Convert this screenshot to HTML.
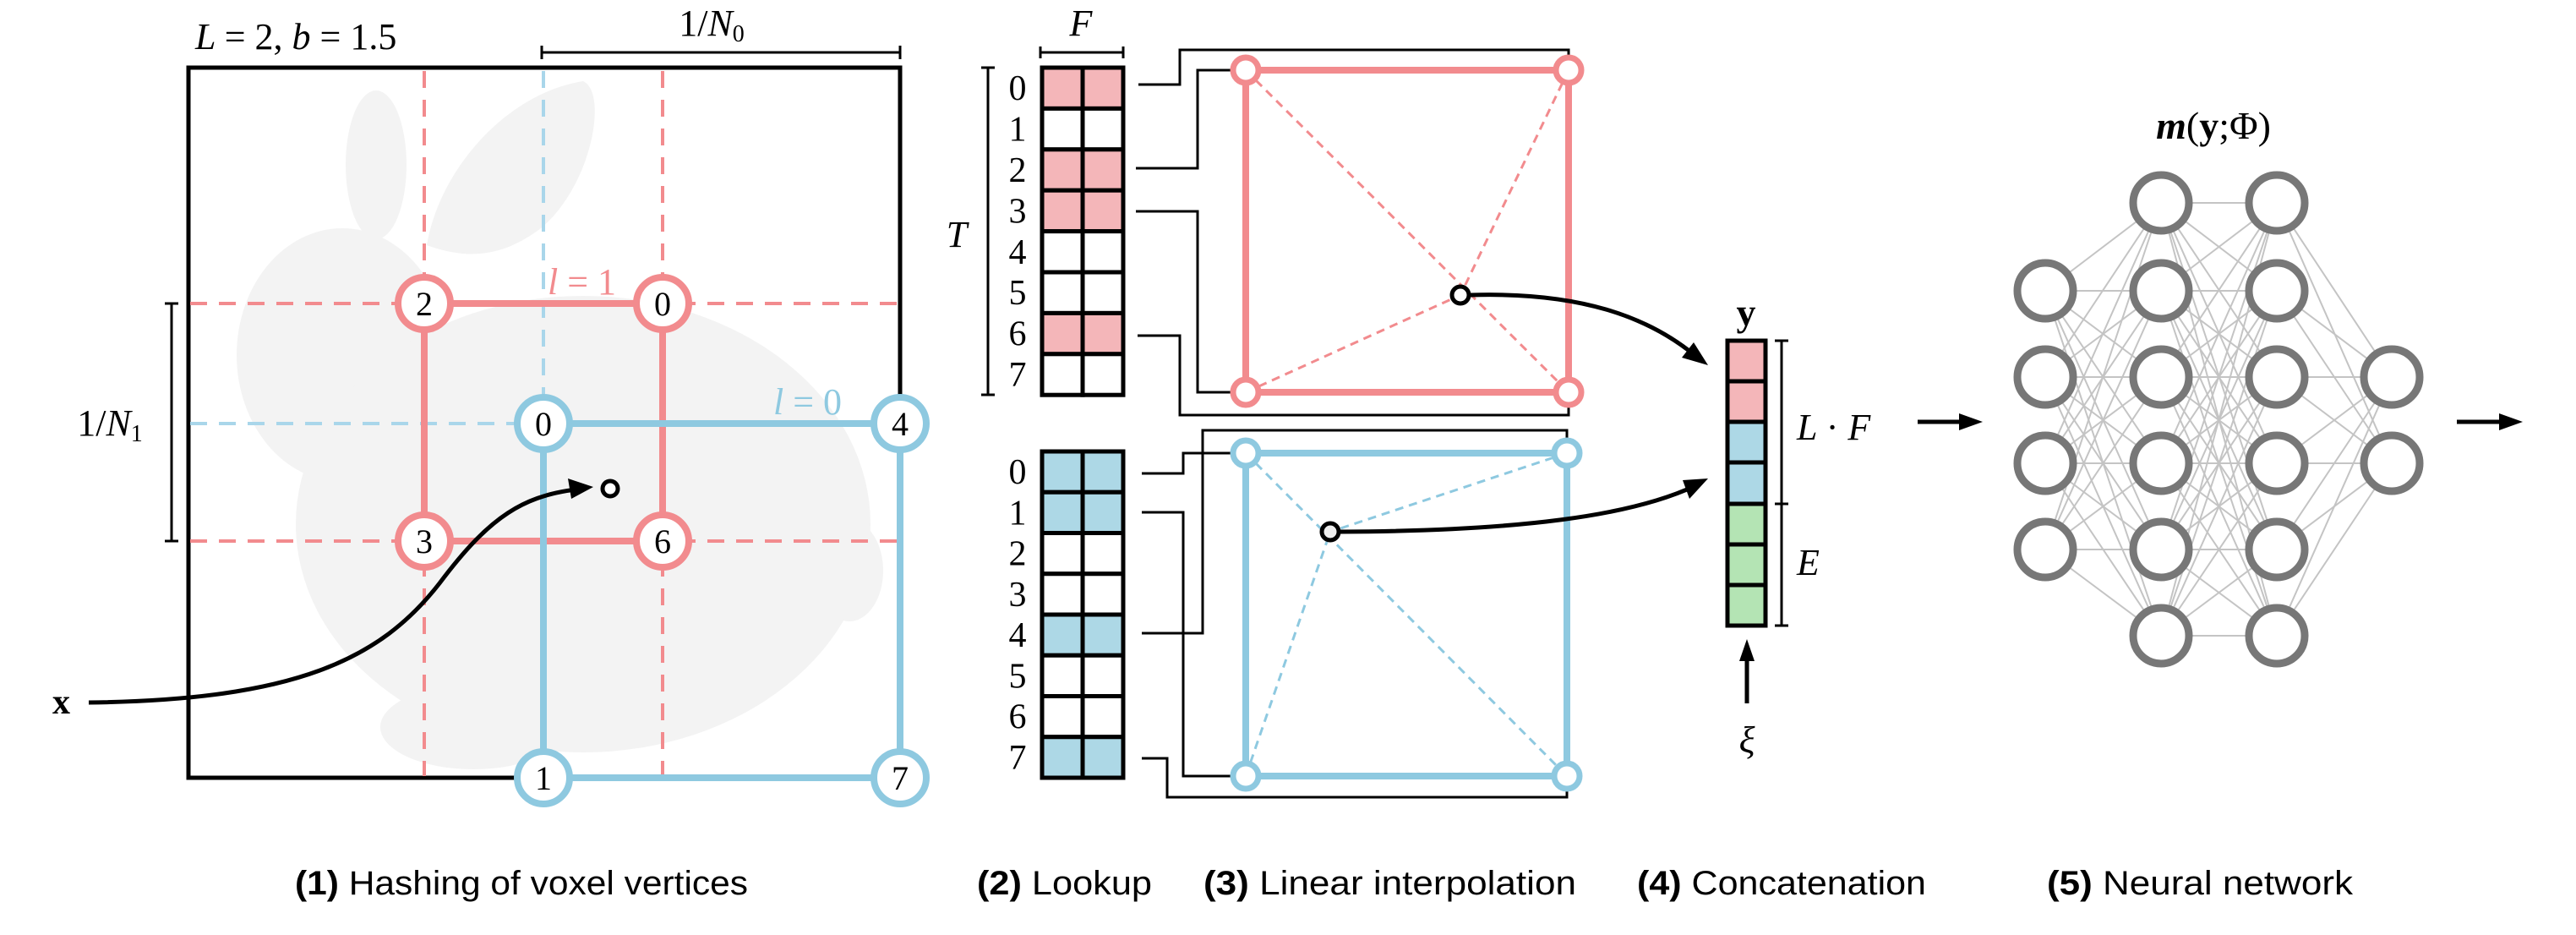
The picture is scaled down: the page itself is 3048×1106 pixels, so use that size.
<!DOCTYPE html>
<html><head><meta charset="utf-8"><style>
html,body{margin:0;padding:0;background:#fff;}
svg{display:block;}
.m{font-family:"Liberation Serif",serif;font-style:italic;fill:#000;}
.r{font-family:"Liberation Serif",serif;fill:#000;}
.c{font-family:"Liberation Sans",sans-serif;font-size:40px;fill:#000;}
</style></head><body>
<svg id="s" width="3048" height="1106" viewBox="0 0 3048 1106" xmlns="http://www.w3.org/2000/svg">
<!-- bunny -->
<g fill="#f3f3f3">
<ellipse cx="445" cy="195" rx="36" ry="88"/>
<path d="M505 290 C520 200 600 110 690 96 C720 110 700 220 640 270 C600 300 560 310 505 290 Z"/>
<ellipse cx="405" cy="420" rx="125" ry="150"/>
<ellipse cx="690" cy="620" rx="340" ry="270"/>
<ellipse cx="1005" cy="675" rx="40" ry="60"/>
<ellipse cx="560" cy="860" rx="110" ry="50"/>
</g>
<!-- box -->
<rect x="223" y="80" width="842" height="840" fill="none" stroke="#000" stroke-width="5"/>
<text x="231" y="58" class="m" font-size="44">L <tspan class="r" font-style="normal">= 2,</tspan>  b <tspan class="r" font-style="normal">= 1.5</tspan></text>
<line x1="641" y1="62" x2="1065" y2="62" stroke="#000" stroke-width="3"/>
<line x1="641" y1="54" x2="641" y2="70" stroke="#000" stroke-width="3"/>
<line x1="1065" y1="54" x2="1065" y2="70" stroke="#000" stroke-width="3"/>
<text x="842" y="42" class="r" font-size="44" text-anchor="middle">1/<tspan class="m">N</tspan><tspan font-size="28" dy="7">0</tspan></text>
<line x1="203" y1="359" x2="203" y2="640" stroke="#000" stroke-width="3"/>
<line x1="195" y1="359" x2="211" y2="359" stroke="#000" stroke-width="3"/>
<line x1="195" y1="640" x2="211" y2="640" stroke="#000" stroke-width="3"/>
<text x="130" y="515" class="r" font-size="44" text-anchor="middle">1/<tspan class="m">N</tspan><tspan font-size="28" dy="7">1</tspan></text>
<!-- dashed -->
<g stroke="#f28b8e" stroke-width="4" stroke-dasharray="20 14" fill="none">
<line x1="502" y1="84" x2="502" y2="918"/><line x1="784" y1="84" x2="784" y2="918"/>
<line x1="225" y1="359" x2="1063" y2="359"/><line x1="225" y1="640" x2="1063" y2="640"/>
</g>
<g stroke="#a9d6ea" stroke-width="4" stroke-dasharray="20 14" fill="none">
<line x1="643" y1="84" x2="643" y2="501"/><line x1="225" y1="501" x2="643" y2="501"/>
</g>
<rect x="502" y="359" width="282" height="281" fill="none" stroke="#f28b8e" stroke-width="8"/>
<rect x="643" y="501" width="422" height="419" fill="none" stroke="#8ec9e0" stroke-width="8"/>
<text x="648" y="348" class="m" font-size="44" style="fill:#f28b8e">l <tspan class="r" font-style="normal" style="fill:#f28b8e">= 1</tspan></text>
<text x="915" y="490" class="m" font-size="44" style="fill:#8ec9e0">l <tspan class="r" font-style="normal" style="fill:#8ec9e0">= 0</tspan></text>
<g stroke-width="8" fill="#fff">
<g stroke="#f28b8e"><circle cx="502" cy="359" r="31"/><circle cx="784" cy="359" r="31"/><circle cx="502" cy="640" r="31"/><circle cx="784" cy="640" r="31"/></g>
<g stroke="#8ec9e0"><circle cx="643" cy="501" r="31"/><circle cx="1065" cy="501" r="31"/><circle cx="643" cy="920" r="31"/><circle cx="1065" cy="920" r="31"/></g>
</g>
<g class="r" font-size="40" text-anchor="middle">
<text x="502" y="373">2</text><text x="784" y="373">0</text><text x="502" y="654">3</text><text x="784" y="654">6</text>
<text x="643" y="515">0</text><text x="1065" y="515">4</text><text x="643" y="934">1</text><text x="1065" y="934">7</text>
</g>
<!-- x curve -->
<text x="62" y="844" class="r" font-size="42" font-weight="bold">x</text>
<path d="M105 831 C350 828 450 780 520 690 C580 610 620 585 690 578" fill="none" stroke="#000" stroke-width="5"/>
<path d="M702 576 L672 566 L676 590 Z" fill="#000"/>
<circle cx="722" cy="578" r="9" fill="#fff" stroke="#000" stroke-width="5"/>
<!-- (2) tables -->
<text x="1279" y="42" class="m" font-size="44" text-anchor="middle">F</text>
<line x1="1231" y1="62" x2="1329" y2="62" stroke="#000" stroke-width="3"/>
<line x1="1231" y1="55" x2="1231" y2="69" stroke="#000" stroke-width="3"/>
<line x1="1329" y1="55" x2="1329" y2="69" stroke="#000" stroke-width="3"/>
<line x1="1169" y1="80" x2="1169" y2="467" stroke="#000" stroke-width="3"/>
<line x1="1161" y1="80" x2="1177" y2="80" stroke="#000" stroke-width="3"/>
<line x1="1161" y1="467" x2="1177" y2="467" stroke="#000" stroke-width="3"/>
<text x="1132" y="292" class="m" font-size="44" text-anchor="middle">T</text>
<g id="tables"></g>
<g fill="none" stroke="#000" stroke-width="3">
<polyline points="1347,100 1396,100 1396,59 1856,59 1856,83"/>
<polyline points="1344,199 1417,199 1417,83 1460,83"/>
<polyline points="1344,250 1417,250 1417,464 1460,464"/>
<polyline points="1346,397 1396,397 1396,491 1856,491 1856,464"/>
<polyline points="1351,560 1400,560 1400,536 1460,536"/>
<polyline points="1351,606 1400,606 1400,918 1460,918"/>
<polyline points="1351,749 1423,749 1423,509 1854,509 1854,536"/>
<polyline points="1351,897 1381,897 1381,943 1854,943 1854,918"/>
</g>
<rect x="1474" y="83" width="382" height="381" fill="none" stroke="#f28b8e" stroke-width="8"/>
<g stroke="#f28b8e" stroke-width="3" stroke-dasharray="10 7"><line x1="1474" y1="83" x2="1856" y2="464"/><line x1="1856" y1="83" x2="1728" y2="349"/><line x1="1474" y1="464" x2="1728" y2="349"/></g>
<rect x="1474" y="536" width="380" height="382" fill="none" stroke="#8ec9e0" stroke-width="8"/>
<g stroke="#8ec9e0" stroke-width="3" stroke-dasharray="10 7"><line x1="1474" y1="536" x2="1854" y2="918"/><line x1="1854" y1="536" x2="1574" y2="629"/><line x1="1474" y1="918" x2="1574" y2="629"/></g>
<g fill="#fff" stroke-width="7">
<g stroke="#f28b8e"><circle cx="1474" cy="83" r="15"/><circle cx="1856" cy="83" r="15"/><circle cx="1474" cy="464" r="15"/><circle cx="1856" cy="464" r="15"/></g>
<g stroke="#8ec9e0"><circle cx="1474" cy="536" r="15"/><circle cx="1854" cy="536" r="15"/><circle cx="1474" cy="918" r="15"/><circle cx="1854" cy="918" r="15"/></g>
</g>
<path d="M1740 349 C1870 345 1950 375 2005 420" fill="none" stroke="#000" stroke-width="5"/>
<path d="M2021 432 L1990 423 L2004 405 Z" fill="#000"/>
<path d="M1586 629 C1800 628 1930 610 2005 575" fill="none" stroke="#000" stroke-width="5"/>
<path d="M2021 566 L1999 590 L1991 568 Z" fill="#000"/>
<circle cx="1728" cy="349" r="10" fill="#fff" stroke="#000" stroke-width="5"/>
<circle cx="1574" cy="629" r="10" fill="#eee" stroke="#000" stroke-width="5"/>
<!-- concat -->
<g stroke="#000" stroke-width="5">
<rect x="2044" y="403" width="45" height="48" fill="#f4b6b9"/><rect x="2044" y="451" width="45" height="48" fill="#f4b6b9"/>
<rect x="2044" y="499" width="45" height="48" fill="#add8e6"/><rect x="2044" y="547" width="45" height="49" fill="#add8e6"/>
<rect x="2044" y="596" width="45" height="48" fill="#b4e4b4"/><rect x="2044" y="644" width="45" height="48" fill="#b4e4b4"/><rect x="2044" y="692" width="45" height="48" fill="#b4e4b4"/>
</g>
<text x="2066" y="385" class="r" font-size="46" font-weight="bold" text-anchor="middle">y</text>
<g stroke="#000" stroke-width="3"><line x1="2108" y1="403" x2="2108" y2="740"/><line x1="2100" y1="403" x2="2116" y2="403"/><line x1="2100" y1="596" x2="2116" y2="596"/><line x1="2100" y1="740" x2="2116" y2="740"/></g>
<text x="2126" y="520" class="m" font-size="44">L <tspan class="r" font-style="normal">·</tspan> F</text>
<text x="2126" y="680" class="m" font-size="44">E</text>
<line x1="2067" y1="832" x2="2067" y2="775" stroke="#000" stroke-width="5"/>
<path d="M2067 756 L2058 782 L2076 782 Z" fill="#000"/>
<text x="2067" y="890" class="m" font-size="44" text-anchor="middle">ξ</text>
<!-- NN -->
<line x1="2269" y1="499" x2="2330" y2="499" stroke="#000" stroke-width="5"/>
<path d="M2346 499 L2318 489 L2318 509 Z" fill="#000"/>
<line x1="2907" y1="499" x2="2970" y2="499" stroke="#000" stroke-width="5"/>
<path d="M2985 499 L2957 489 L2957 509 Z" fill="#000"/>
<text x="2619" y="164" class="r" font-size="46" text-anchor="middle"><tspan class="m" font-weight="bold">m</tspan>(<tspan font-weight="bold">y</tspan>;Φ)</text>
<g id="nn"></g>
<!-- captions -->
<text x="349" y="1058" class="c" textLength="536" lengthAdjust="spacingAndGlyphs"><tspan font-weight="bold">(1)</tspan> Hashing of voxel vertices</text>
<text x="1156" y="1058" class="c" textLength="207" lengthAdjust="spacingAndGlyphs"><tspan font-weight="bold">(2)</tspan> Lookup</text>
<text x="1424" y="1058" class="c" textLength="441" lengthAdjust="spacingAndGlyphs"><tspan font-weight="bold">(3)</tspan> Linear interpolation</text>
<text x="1937" y="1058" class="c" textLength="342" lengthAdjust="spacingAndGlyphs"><tspan font-weight="bold">(4)</tspan> Concatenation</text>
<text x="2422" y="1058" class="c" textLength="362" lengthAdjust="spacingAndGlyphs"><tspan font-weight="bold">(5)</tspan> Neural network</text>
</svg>
<script>
var NS="http://www.w3.org/2000/svg";
function el(p,t,a,txt){var e=document.createElementNS(NS,t);for(var k in a)e.setAttribute(k,a[k]);if(txt!==undefined)e.textContent=txt;p.appendChild(e);return e;}
var tb=document.getElementById("tables");
function table(y0,h,filled,col){
 for(var i=0;i<8;i++){var y=y0+i*h;var f=filled.indexOf(i)>=0?col:"#fff";
  el(tb,"rect",{x:1233,y:y,width:48,height:h,fill:f,stroke:"#000","stroke-width":5});
  el(tb,"rect",{x:1281,y:y,width:48,height:h,fill:f,stroke:"#000","stroke-width":5});
  el(tb,"text",{x:1204,y:y+h/2+14,"font-size":42,"text-anchor":"middle","class":"r"},String(i));}
}
table(80,48.4,[0,2,3,6],"#f4b6b9");
table(534,48.25,[0,1,4,7],"#add8e6");
var nn=document.getElementById("nn");
var cols=[[2420,[344,446,548,650]],[2557,[240,344,446,548,650,752]],[2694,[240,344,446,548,650,752]],[2830,[446,548]]];
for(var c=0;c<3;c++){for(var a of cols[c][1])for(var b of cols[c+1][1])
 el(nn,"line",{x1:cols[c][0],y1:a,x2:cols[c+1][0],y2:b,stroke:"#c4c4c4","stroke-width":2});}
for(var c=0;c<4;c++)for(var y of cols[c][1])el(nn,"circle",{cx:cols[c][0],cy:y,r:33,fill:"#fff",stroke:"#777","stroke-width":9});
</script>
</body></html>
